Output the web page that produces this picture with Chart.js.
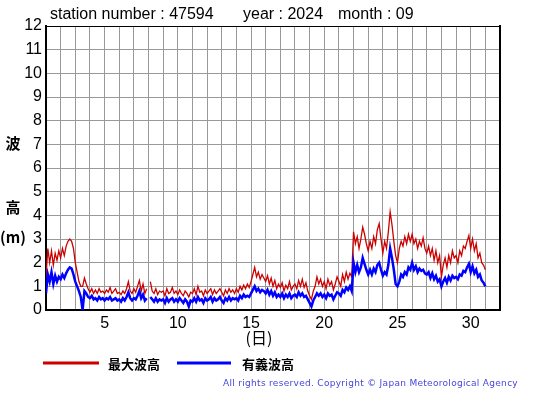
<!DOCTYPE html>
<html>
<head>
<meta charset="utf-8">
<script src="https://cdn.jsdelivr.net/npm/chart.js@4/dist/chart.umd.min.js"></script>
<style>
  html, body { margin: 0; padding: 0; background: #fff; }
  #wrap { width: 555px; height: 395px; position: relative; }
</style>
</head>
<body>
<div id="wrap"><canvas id="waveChart" width="555" height="395"></canvas></div>
<script>
// 3-hourly readings, Sept 1 00h .. Oct 1 00h (8 values per day)
const stepsPerDay = 8;
const startDay = 1;

// 最大波高 (m)
const maxWave = [
  1.4, 2.6, 2.0, 2.5, 1.9, 2.4, 2.1, 2.5,
  2.2, 2.6, 2.3, 2.7, 2.9, 3.0, 2.9, 2.6,
  2.0, 1.6, 1.2, 1.0, 1.0, 1.35, 1.1, 0.9,
  0.75, 0.9, 0.7, 0.85, 0.7, 0.9, 0.75, 0.8,
  0.7, 0.85, 0.75, 0.95, 0.7, 0.8, 0.9, 0.7,
  0.75, 0.65, 0.8, 0.7, 0.9, 1.2, 0.8, 0.7,
  0.9, 0.75, 1.0, 1.25, 0.8, 1.1, 0.7, 0.9,
  null, 1.2, 0.8, 0.7, 0.9, 0.65, 0.8, 0.75,
  0.8, 0.6, 0.9, 0.7, 0.75, 0.95, 0.7, 0.8,
  0.65, 0.85, 0.7, 0.6, 0.8, 0.7, 0.55, 0.75,
  0.7, 0.9, 0.65, 1.0, 0.75, 0.8, 0.6, 0.85,
  0.7, 0.8, 0.9, 0.65, 0.85, 0.7, 0.8, 0.9,
  0.75, 0.6, 0.85, 0.7, 0.9, 0.75, 0.85, 0.7,
  0.9, 0.75, 1.0, 0.85, 1.05, 0.9, 1.1, 0.95,
  1.2, 1.5, 1.8, 1.4, 1.6, 1.3, 1.5, 1.35,
  1.2, 1.45, 1.1, 1.35, 1.0, 1.25, 0.9, 1.1,
  0.95, 1.15, 0.8, 1.05, 0.9, 1.2, 0.85, 1.0,
  1.1, 0.9, 1.25, 1.0, 1.3, 0.95, 1.15, 0.8,
  0.6, 0.45, 0.8, 1.0, 1.4, 1.1, 1.3, 1.0,
  1.2, 0.9, 1.3, 1.05, 1.2, 0.85, 1.1, 1.4,
  1.2, 1.0, 1.5, 1.2, 1.6, 1.3, 1.55, 1.4,
  3.3, 2.8, 3.1, 2.6, 3.0, 3.5, 3.2, 2.8,
  2.5, 2.9, 2.6, 3.1, 2.8, 3.4, 3.65, 3.0,
  2.4, 2.9, 2.6, 3.3, 4.15, 3.6, 2.9, 2.3,
  2.0, 2.6, 2.9, 2.7, 3.1, 2.8, 3.2, 2.9,
  3.2, 2.8, 3.0, 2.6, 2.9, 2.7, 3.05, 2.6,
  2.4, 2.7, 2.3, 2.6, 2.1, 2.5, 2.0, 2.3,
  1.4, 1.9, 2.2, 1.8, 2.3, 2.0, 2.5, 2.2,
  2.3, 2.0, 2.5, 2.3, 2.7, 2.6, 2.9, 3.15,
  2.6, 3.0, 2.5, 2.8, 2.2, 2.4, 2.0, 1.9,
  1.7
];

// 有義波高 (m)
const sigWave = [
  0.7, 1.5, 1.2, 1.6, 1.1, 1.45, 1.2, 1.4,
  1.3, 1.5, 1.35, 1.55, 1.7, 1.8, 1.75, 1.5,
  1.2, 1.0, 0.8, 0.55, 0.0, 0.8, 0.7, 0.55,
  0.5, 0.6, 0.45, 0.5, 0.4, 0.55, 0.45, 0.5,
  0.4, 0.5, 0.45, 0.55, 0.4, 0.45, 0.5, 0.4,
  0.45, 0.35, 0.5, 0.4, 0.55, 0.75, 0.5, 0.4,
  0.5, 0.45, 0.6, 0.8, 0.5, 0.65, 0.4, 0.5,
  null, 0.55, 0.45, 0.35, 0.5, 0.35, 0.45, 0.4,
  0.45, 0.3, 0.5, 0.35, 0.45, 0.5, 0.35, 0.45,
  0.35, 0.5, 0.4, 0.3, 0.45, 0.35, 0.15, 0.4,
  0.35, 0.5, 0.35, 0.55, 0.4, 0.45, 0.3, 0.5,
  0.4, 0.45, 0.55, 0.35, 0.5, 0.4, 0.45, 0.55,
  0.4, 0.3, 0.5, 0.4, 0.55, 0.4, 0.5, 0.45,
  0.5, 0.4, 0.6, 0.5, 0.65, 0.55, 0.6, 0.55,
  0.7, 0.85, 1.0, 0.8, 0.9, 0.75, 0.85, 0.8,
  0.7, 0.85, 0.65, 0.8, 0.6, 0.75, 0.55, 0.65,
  0.55, 0.7, 0.5, 0.65, 0.55, 0.7, 0.5, 0.6,
  0.65, 0.55, 0.75, 0.6, 0.7, 0.55, 0.6, 0.45,
  0.3, 0.15, 0.4, 0.55, 0.7, 0.6, 0.7, 0.55,
  0.65, 0.5, 0.7, 0.6, 0.65, 0.45, 0.6, 0.75,
  0.7, 0.6, 0.85, 0.75, 0.95, 0.85, 1.0, 0.8,
  2.0, 1.6, 1.9, 1.6, 1.8, 2.2, 1.95, 1.7,
  1.5, 1.7, 1.5, 1.75, 1.6, 1.9, 2.0, 1.7,
  1.45, 1.6, 1.5, 1.9, 2.6, 2.2, 1.7, 1.1,
  1.0, 1.2, 1.5, 1.4, 1.6, 1.5, 1.8, 1.7,
  2.0, 1.7, 1.85, 1.6, 1.75, 1.65, 1.7, 1.55,
  1.5, 1.6, 1.35, 1.55, 1.3, 1.45, 1.2, 1.3,
  1.0, 1.2, 1.35, 1.15, 1.4, 1.25, 1.45, 1.35,
  1.4, 1.3, 1.5, 1.45, 1.65, 1.6, 1.8, 1.95,
  1.6, 1.85, 1.55, 1.7, 1.4, 1.5, 1.25, 1.15,
  1.0
];

// axis ticks
const xTickLabels = [5, 10, 15, 20, 25, 30];
const yTickLabels = [0, 1, 2, 3, 4, 5, 6, 7, 8, 9, 10, 11, 12];

const redColor = '#cc0000';
const blueColor = '#0000ff';

function toPoints(values) {
    return values.map(function(v, i) {
        return { x: startDay + i / stepsPerDay, y: v };
    });
}

// extra text: title, y label, unit, legend, copyright
const decorPlugin = {
    id: 'decor',
    afterDraw: function(chart) {
        const ctx = chart.ctx;
        ctx.save();
        ctx.fillStyle = '#000';
        ctx.textBaseline = 'middle';
        ctx.textAlign = 'left';
        ctx.font = '16px "Liberation Sans", Arial, sans-serif';
        ctx.fillText('station number : 47594', 50, 15);
        ctx.fillText('year : 2024', 243, 15);
        ctx.fillText('month : 09', 338, 15);

        ctx.textAlign = 'center';
        ctx.font = 'bold 15px "Noto Sans CJK JP", sans-serif';
        ctx.fillText('波', 13, 143);
        ctx.fillText('高', 13, 207);
        ctx.fillText('(m)', 13, 237);
        ctx.font = '16px "Noto Sans CJK JP", sans-serif';
        ctx.fillText('(日)', 259, 338);

        // legend
        ctx.lineWidth = 3;
        ctx.strokeStyle = redColor;
        ctx.beginPath(); ctx.moveTo(43, 363); ctx.lineTo(99, 363); ctx.stroke();
        ctx.strokeStyle = blueColor;
        ctx.beginPath(); ctx.moveTo(177, 363); ctx.lineTo(231, 363); ctx.stroke();
        ctx.textAlign = 'left';
        ctx.font = 'bold 13px "Noto Sans CJK JP", sans-serif';
        ctx.fillText('最大波高', 108, 364);
        ctx.fillText('有義波高', 242, 364);

        // copyright
        ctx.fillStyle = '#4646dc';
        ctx.font = '9px "DejaVu Sans", sans-serif';
        if ('letterSpacing' in ctx) ctx.letterSpacing = '0.3px';
        ctx.textAlign = 'right';
        ctx.fillText('All rights reserved. Copyright © Japan Meteorological Agency', 518, 384);
        ctx.restore();
    }
};

const ctx = document.getElementById('waveChart').getContext('2d');
new Chart(ctx, {
    type: 'line',
    data: {
        datasets: [{
            label: '最大波高',
            data: toPoints(maxWave),
            borderColor: redColor,
            borderWidth: 1.3,
            pointRadius: 0,
            tension: 0,
            spanGaps: false,
            order: 2
        }, {
            label: '有義波高',
            data: toPoints(sigWave),
            borderColor: blueColor,
            borderWidth: 2.5,
            pointRadius: 0,
            tension: 0,
            spanGaps: false,
            order: 1
        }]
    },
    options: {
        responsive: false,
        animation: false,
        layout: { padding: { top: 26, right: 55, left: 0, bottom: 0 } },
        plugins: {
            legend: { display: false },
            tooltip: { enabled: false }
        },
        scales: {
            x: {
                type: 'linear',
                min: 1,
                max: 32,
                afterFit: function(scale) { scale.height = 85; },
                afterBuildTicks: function(scale) {
                    const ticks = [];
                    for (let d = 1; d <= 32; d++) ticks.push({ value: d });
                    scale.ticks = ticks;
                },
                grid: { color: '#999', lineWidth: 1, drawTicks: false },
                border: { color: '#000', width: 2 },
                ticks: {
                    color: '#000',
                    padding: 4,
                    maxRotation: 0,
                    autoSkip: false,
                    font: { family: '"Liberation Sans", Arial, sans-serif', size: 16 },
                    callback: function(v) { return xTickLabels.includes(v) ? String(v) : ''; }
                }
            },
            y: {
                min: 0,
                max: 12,
                afterFit: function(scale) { scale.width = 46; },
                afterBuildTicks: function(scale) {
                    scale.ticks = yTickLabels.map(function(v) { return { value: v }; });
                },
                grid: { color: '#999', lineWidth: 1, drawTicks: false },
                border: { color: '#000', width: 2 },
                ticks: {
                    color: '#000',
                    padding: 4,
                    font: { family: '"Liberation Sans", Arial, sans-serif', size: 16 }
                }
            },
            x2: {
                type: 'linear', position: 'top', min: 1, max: 32,
                grid: { display: false }, ticks: { display: false },
                border: { color: '#000', width: 1 },
                afterFit: function(scale) { scale.height = 0; }
            },
            y2: {
                position: 'right', min: 0, max: 12,
                grid: { display: false }, ticks: { display: false },
                border: { color: '#000', width: 2 },
                afterFit: function(scale) { scale.width = 0; }
            }
        }
    },
    plugins: [decorPlugin]
});
</script>
</body>
</html>
